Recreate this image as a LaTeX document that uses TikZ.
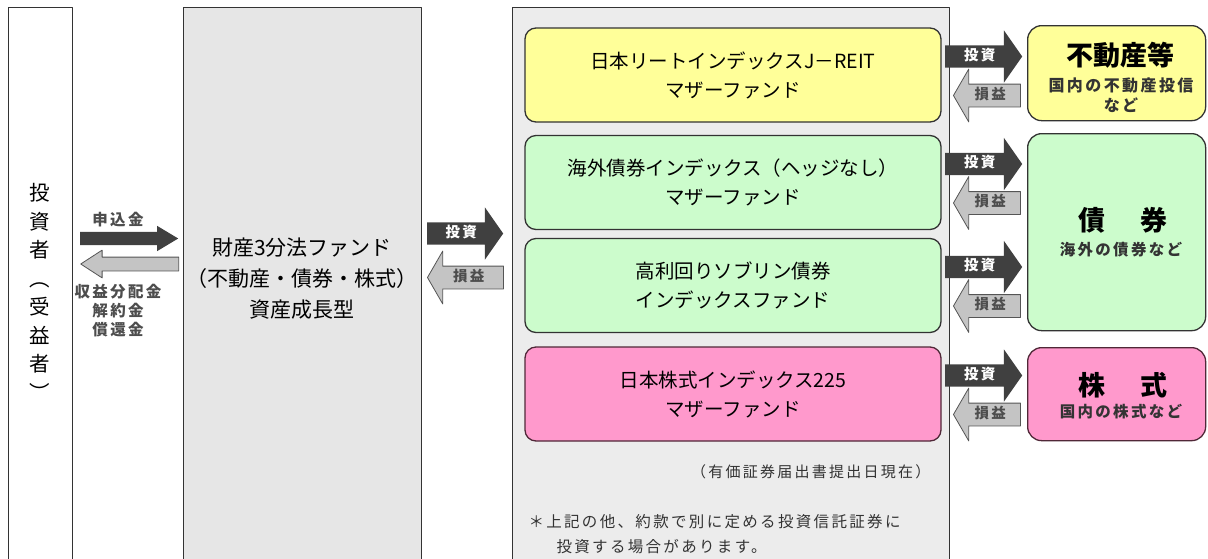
\documentclass[tikz,border=0pt]{standalone}
\usepackage{fontspec}
\setmainfont{Noto Sans CJK JP}
\newfontfamily\jpsp{Noto Sans CJK JP}[LetterSpace=15]
\usetikzlibrary{shapes.arrows}
\definecolor{boxline}{HTML}{333333}
\definecolor{fundbg}{HTML}{E6E6E6}
\definecolor{midbg}{HTML}{ECECEC}
\definecolor{reitfill}{HTML}{FFFF99}
\definecolor{bondfill}{HTML}{CCFCCC}
\definecolor{stockfill}{HTML}{FF99CC}
\definecolor{stockline}{HTML}{502838}
\definecolor{arrdark}{HTML}{404040}
\definecolor{arrlight}{HTML}{C4C4C4}
\definecolor{arrline}{HTML}{555555}
\definecolor{labelgray}{HTML}{4D4D4D}
\tikzset{
  frame/.style={draw=boxline,line width=1.3pt,anchor=north west,inner sep=0pt},
  fundbox/.style={draw=boxline,line width=1.3pt,rounded corners=11pt,minimum width=416,minimum height=94,
    align=center,inner sep=0pt,font=\fontsize{19.5}{29}\selectfont},
  assetbox/.style={draw=boxline,line width=1.3pt,rounded corners=14pt,minimum width=178,anchor=north west,inner sep=0pt},
  invarrow/.style={single arrow,fill=arrdark,text=white,minimum height=77,single arrow head extend=15pt,
    single arrow tip angle=110,text height=9.5pt,text depth=2pt,inner xsep=2pt,inner ysep=5.25pt,
    font=\jpsp\bfseries\fontsize{14.5}{14.5}\selectfont},
  retarrow/.style={invarrow,shape border rotate=180,fill=arrlight,draw=arrline,line width=0.8pt,
    text=labelgray,single arrow tip angle=120},
  payarrow/.style={single arrow,fill=arrdark,minimum height=98,single arrow head extend=6pt,
    single arrow tip angle=62,text height=0pt,text depth=0pt,inner ysep=6.5pt,inner xsep=0pt},
  refarrow/.style={payarrow,shape border rotate=180,fill=arrlight,draw=arrline,line width=0.8pt,
    single arrow head extend=7pt,single arrow tip angle=66},
  smalltxt/.style={font=\jpsp\bfseries\fontsize{15.5}{19}\selectfont,text=labelgray,align=center},
  titletxt/.style={font=\bfseries\fontsize{27}{30}\selectfont}
}
\begin{document}
\begin{tikzpicture}[x=1pt,y=-1pt,line join=round]
\useasboundingbox (0,0) rectangle (1208,558);
\clip (0,0) rectangle (1208,558);
% frames
\node[frame,fill=white,minimum width=64,minimum height=600] (inv) at (8,7) {};
\node[frame,fill=fundbg,minimum width=238,minimum height=600] (fund) at (183,7) {};
\node[frame,fill=midbg,minimum width=437,minimum height=600] (mother) at (512,7) {};
% investor
\node[font=\fontsize{20.5}{28.5}\selectfont,align=center] (invtxt) at (40,292) {投\\資\\者\\︵\\受\\益\\者\\︶};
\node[payarrow,anchor=tail] (pay) at (80,238.5) {};
\node[refarrow,anchor=tip] (refund) at (80,264) {};
\node[smalltxt] (paylbl) at (118,220) {申込金};
\node[smalltxt] (reflbl) at (118,311) {収益分配金\\解約金\\償還金};
% fund of funds
\node[align=center,font=\fontsize{21}{31}\selectfont] (fundtxt) at (302,279) {財産3分法ファンド\\（不動産・債券・株式）\\資産成長型};
\node[invarrow,anchor=tail,minimum height=76] (inv0) at (427,233.5) {投資};
\node[retarrow,anchor=tip,minimum height=76] (ret0) at (427,277.5) {損益};
% mother funds
\node[fundbox,fill=reitfill] (reit) at (733,75) {日本リートインデックスJ－REIT\\マザーファンド};
\node[fundbox,fill=bondfill] (gbond) at (733,182.5) {海外債券インデックス（ヘッジなし）\\マザーファンド};
\node[fundbox,fill=bondfill] (sbond) at (733,285.5) {高利回りソブリン債券\\インデックスファンド};
\node[fundbox,fill=stockfill,draw=stockline] (nikkei) at (733,394) {日本株式インデックス225\\マザーファンド};
\foreach \i/\y in {1/75,2/182.5,3/285.5,4/394}{
  \node[invarrow,anchor=tail] (inv\i) at (945,{\y-18.5}) {投資};
  \node[retarrow,anchor=tip,minimum height=67] (ret\i) at (953,{\y+20.5}) {損益};
}
% assets
\node[assetbox,fill=reitfill,minimum height=95] (estate) at (1027,25) {};
\node[assetbox,fill=bondfill,minimum height=197] (bond) at (1027,133) {};
\node[assetbox,fill=stockfill,draw=stockline,minimum height=93] (stock) at (1027,347) {};
\node[titletxt] (estatettl) at (1120,55) {不動産等};
\node[smalltxt,text=boxline,font=\jpsp\bfseries\fontsize{16}{20}\selectfont] (estatesub) at (1121,95) {国内の不動産投信\\など};
\node[titletxt] (bondttl) at (1123,220) {債\hspace{35pt}券};
\node[smalltxt,text=boxline] (bondsub) at (1121,250) {海外の債券など};
\node[titletxt] (stockttl) at (1123,385) {株\hspace{35pt}式};
\node[smalltxt,text=boxline] (stocksub) at (1121,412) {国内の株式など};
% notes
\node[font=\jpsp\fontsize{15}{25}\selectfont,text=boxline,anchor=east] (date) at (934,472) {（有価証券届出書提出日現在）};
\node[font=\jpsp\fontsize{15.5}{25}\selectfont,text=boxline,anchor=west,align=left] (note) at (525,534.5)
  {＊上記の他、約款で別に定める投資信託証券に\\\hspace*{28pt}投資する場合があります。};
\end{tikzpicture}
\end{document}
